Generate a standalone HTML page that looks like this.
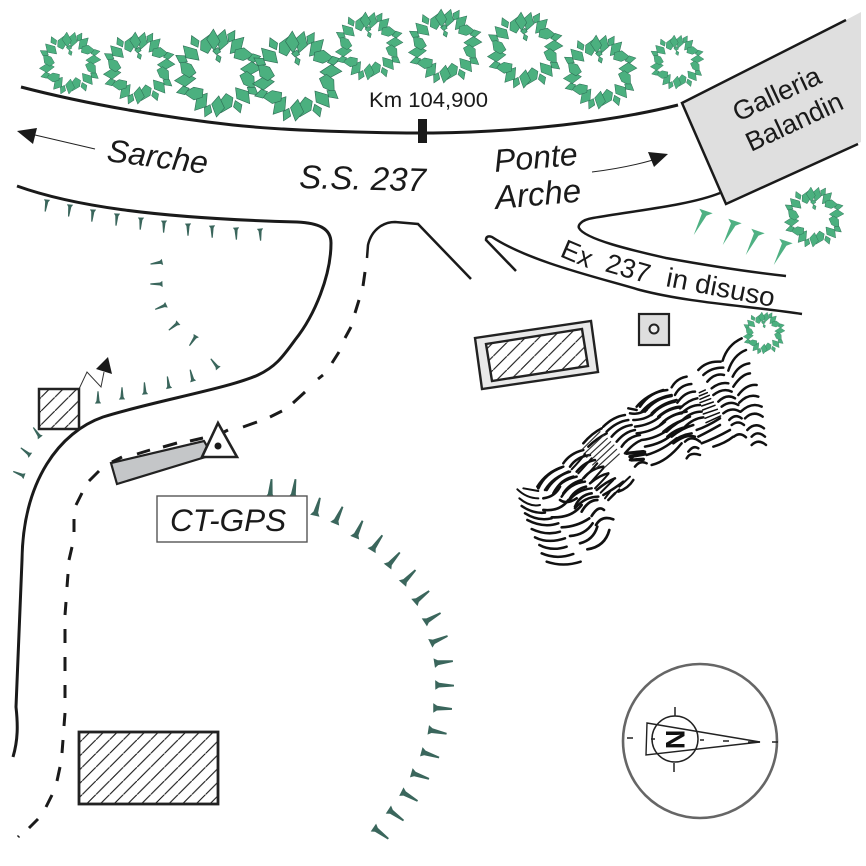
<!DOCTYPE html>
<html><head><meta charset="utf-8"><title>Diagram</title>
<style>html,body{margin:0;padding:0;background:#fff}svg{display:block}
text{font-family:"Liberation Sans",sans-serif;fill:#1a1a1a}.i{font-style:italic}</style></head>
<body>
<svg width="866" height="866" viewBox="0 0 866 866" xmlns="http://www.w3.org/2000/svg">
<defs>
<pattern id="h" width="13.7" height="13.7" patternUnits="userSpaceOnUse"><path d="M-1,14.7 L14.7,-1" stroke="#111" stroke-width="1.1" fill="none"/></pattern>
<path id="k" d="M-4.8,1 L4.8,0.5 L2.4,-3 L0.9,-18 L-0.9,-18 L-2.4,-3Z"/>
<path id="k2" d="M-7,1 L7,-1 L2.5,-4 L0,-27 L-2.5,-4Z"/>
<path id="a" d="M0,-52 L17,-70 L7,-100 L-12,-80Z"/>
<path id="b" d="M0,-74 L11,-84 L5,-104 L-8,-90Z"/>
<path id="c" d="M-3,-50 L15,-62 L22,-88 L-6,-82 L-15,-64Z"/>
<g id="tr" fill="#4bb07f" stroke="#2e6e55" stroke-width="1.4">
<use href="#a" transform="rotate(5)"/><use href="#b" transform="rotate(19)"/><use href="#a" transform="rotate(32)"/><use href="#c" transform="rotate(50)"/>
<use href="#b" transform="rotate(66)"/><use href="#a" transform="rotate(80)"/><use href="#c" transform="rotate(100)"/><use href="#b" transform="rotate(116)"/>
<use href="#a" transform="rotate(130)"/><use href="#b" transform="rotate(148)"/><use href="#c" transform="rotate(162)"/><use href="#a" transform="rotate(178)"/>
<use href="#b" transform="rotate(194)"/><use href="#a" transform="rotate(208)"/><use href="#c" transform="rotate(226)"/><use href="#b" transform="rotate(242)"/>
<use href="#a" transform="rotate(256)"/><use href="#c" transform="rotate(274)"/><use href="#b" transform="rotate(290)"/><use href="#a" transform="rotate(304)"/>
<use href="#b" transform="rotate(322)"/><use href="#c" transform="rotate(336)"/><use href="#a" transform="rotate(350)"/>
<path d="M-12,-50 L0,-58 L6,-48 L-4,-42Z"/><path d="M-2,-42 L7,-36 L4,-24 L-5,-30Z"/>
</g>
</defs>

<!-- trees -->
<use href="#tr" transform="translate(70,63) scale(.31)"/>
<use href="#tr" transform="translate(139,68) scale(.36)"/>
<use href="#tr" transform="translate(218,73) scale(.44)"/>
<use href="#tr" transform="translate(297,76) scale(.45)"/>
<use href="#tr" transform="translate(369,46) scale(.34)"/>
<use href="#tr" transform="translate(445,46) scale(.37)"/>
<use href="#tr" transform="translate(525,50) scale(.38)"/>
<use href="#tr" transform="translate(600,72) scale(.37)"/>
<use href="#tr" transform="translate(677,62) scale(.27)"/>
<use href="#tr" transform="translate(814,217) scale(.3)"/>
<use href="#tr" transform="translate(764,333) scale(.21)"/>

<!-- gallery -->
<polygon points="682,103 846,20 861,12 861,142 726,204" fill="#dfdfdf"/>
<path d="M846,20 L682,103 L726,204 L858,144" fill="none" stroke="#1a1a1a" stroke-width="2.5"/>
<text transform="translate(738,122) rotate(-25)" font-size="27" textLength="94" lengthAdjust="spacingAndGlyphs">Galleria</text>
<text transform="translate(751,152) rotate(-25)" font-size="27" textLength="104" lengthAdjust="spacingAndGlyphs">Balandin</text>

<!-- gray bar -->
<polygon points="111,463 204,441 212,455 117,484" fill="#c4c6c8" stroke="#222" stroke-width="2.2"/>

<!-- roads -->
<g fill="none" stroke="#1a1a1a" stroke-width="3">
<path d="M21,87 C90,105 170,118 233,125 C290,131 370,133 433,133 C520,132 610,122 678,105"/>
<path d="M17,186 C70,205 150,218 297,222 C318,223 331,228 331,243 C331,275 315,315 295,340 C282,358 275,367 258,375 C230,388 150,402 103,417 C60,432 23,480 22,560 L16,707 C18,725 18,740 13,757"/>
<path d="M367,258 L368,245 C372,228 385,222 395,222 L418,224 L471,279" stroke-width="2.5"/>
<path d="M720,193 C690,205 640,210 593,218 C580,220 578,226 579,228 C585,240 640,252 666,258 C710,266 750,272 786,276" stroke-width="2.5"/>
<path d="M516,271 L486,240 Q486,235 492,237 C530,262 600,278 640,290 C690,303 750,306 802,314" stroke-width="2.5"/>
<path stroke-width="3" d="M365,272L363,286M359,300L355,313M351,327L345,338M339,352L332,363M323,375L318,379M305,392L293,403M282,411L270,417M257,422L243,427M228,430L224,432M203,438L190,441M177,443L163,447M150,450L137,454M122,457L112,462M99,471L89,481M82,493L76,505M74,519L74,532M72,547L69,560M68,574L67,587M66,602L65,615M65,629L65,643M65,657L65,671M65,685L65,698M65,713L64,726M63,740L62,753M60,767L57,781M52,795L46,807M38,819L29,828M19,836L18,837"/>
</g>
<rect x="418" y="119" width="9" height="24" fill="#1a1a1a"/>

<!-- direction arrows -->
<path d="M95,149 L35,135" stroke="#222" stroke-width="1" fill="none"/>
<polygon points="17,131 37,128 33,144" fill="#1a1a1a"/>
<path d="M592,172 Q625,168 653,160" stroke="#222" stroke-width="1" fill="none"/>
<polygon points="668,154 648,152 654,167" fill="#1a1a1a"/>
<path d="M79,389 L87,372 L101,387 L104,372" stroke="#333" stroke-width="1" fill="none"/>
<polygon points="108,357 96,369 112,374" fill="#1a1a1a"/>

<!-- ticks -->
<g fill="#3a665c">
<use href="#k" transform="translate(47,200) rotate(189) scale(.65)"/>
<use href="#k" transform="translate(70,205) rotate(187) scale(.65)"/>
<use href="#k" transform="translate(93,210) rotate(186) scale(.65)"/>
<use href="#k" transform="translate(117,214) rotate(185) scale(.65)"/>
<use href="#k" transform="translate(141,218) rotate(184) scale(.65)"/>
<use href="#k" transform="translate(164,221) rotate(182) scale(.65)"/>
<use href="#k" transform="translate(188,224) rotate(180) scale(.65)"/>
<use href="#k" transform="translate(212,226) rotate(179) scale(.65)"/>
<use href="#k" transform="translate(236,228) rotate(178) scale(.65)"/>
<use href="#k" transform="translate(260,229) rotate(177) scale(.65)"/>
<use href="#k" transform="translate(162,262) rotate(-100) scale(.65)"/>
<use href="#k" transform="translate(162,284) rotate(-90) scale(.65)"/>
<use href="#k" transform="translate(166,305) rotate(-112) scale(.65)"/>
<use href="#k" transform="translate(178,323) rotate(-128) scale(.65)"/>
<use href="#k" transform="translate(196,336) rotate(-146) scale(.65)"/>
<use href="#k" transform="translate(218,368) rotate(-38) scale(.65)"/>
<use href="#k" transform="translate(193,381) rotate(-14) scale(.65)"/>
<use href="#k" transform="translate(169,388) rotate(-8) scale(.65)"/>
<use href="#k" transform="translate(145,394) rotate(-3) scale(.65)"/>
<use href="#k" transform="translate(122,399) rotate(0) scale(.65)"/>
<use href="#k" transform="translate(98,403) rotate(0) scale(.65)"/>
<use href="#k" transform="translate(40,437) rotate(-35) scale(.65)"/>
<use href="#k" transform="translate(30,455) rotate(-52) scale(.65)"/>
<use href="#k" transform="translate(24,476) rotate(-67) scale(.65)"/>

<use href="#k" transform="translate(270,497) rotate(5)"/>
<use href="#k" transform="translate(293,497) rotate(8)"/>
<use href="#k" transform="translate(315,515) rotate(16)"/>
<use href="#k" transform="translate(335,523) rotate(25)"/>
<use href="#k" transform="translate(355,537) rotate(25)"/>
<use href="#k" transform="translate(372,550) rotate(35)"/>
<use href="#k" transform="translate(388,566) rotate(41)"/>
<use href="#k" transform="translate(403,583) rotate(44)"/>
<use href="#k" transform="translate(415,602) rotate(52)"/>
<use href="#k" transform="translate(425,622) rotate(60)"/>
<use href="#k" transform="translate(431,643) rotate(67)"/>
<use href="#k" transform="translate(435,663) rotate(84)"/>
<use href="#k" transform="translate(436,685) rotate(92)"/>
<use href="#k" transform="translate(434,708) rotate(93)"/>
<use href="#k" transform="translate(429,730) rotate(102)"/>
<use href="#k" transform="translate(422,752) rotate(108)"/>
<use href="#k" transform="translate(412,773) rotate(109)"/>
<use href="#k" transform="translate(402,792) rotate(120)"/>
<use href="#k" transform="translate(389,810) rotate(126)"/>
<use href="#k" transform="translate(374,828) rotate(127)"/>
</g>
<g fill="#4fb183">
<use href="#k2" transform="translate(706,211) rotate(207)"/>
<use href="#k2" transform="translate(735,221) rotate(207)"/>
<use href="#k2" transform="translate(758,231) rotate(207)"/>
<use href="#k2" transform="translate(786,241) rotate(207)"/>
</g>

<!-- buildings -->
<rect x="79" y="732" width="139" height="72" fill="url(#h)" stroke="#222" stroke-width="2.8"/>
<rect x="39" y="389" width="40" height="40" fill="#fff" stroke="none"/>
<rect x="39" y="389" width="40" height="40" fill="url(#h)" stroke="#222" stroke-width="2.5"/>
<polygon points="475,338 591,321 598,372 482,389" fill="#e9e9e9" stroke="#222" stroke-width="2.4"/>
<polygon points="486,344 582,329 588,366 492,381" fill="#fff" stroke="none"/>
<polygon points="486,344 582,329 588,366 492,381" fill="url(#h)" stroke="#222" stroke-width="2.4"/>
<rect x="639" y="314" width="30" height="31" fill="#dedede" stroke="#222" stroke-width="2.2"/>
<circle cx="654" cy="329" r="4.5" fill="#eee" stroke="#222" stroke-width="2"/>

<!-- GPS -->
<polygon points="218,423 237,457 202,457" fill="#fff" stroke="#222" stroke-width="2.6"/>
<circle cx="218" cy="446" r="3.5" fill="#1a1a1a"/>
<rect x="157" y="496" width="150" height="46" fill="#fff" stroke="#555" stroke-width="1.4"/>
<text class="i" x="170" y="531" font-size="31.5">CT-GPS</text>

<!-- labels -->
<text x="369" y="107" font-size="21" textLength="119" lengthAdjust="spacingAndGlyphs">Km 104,900</text>
<text class="i" transform="translate(106,161) rotate(7.3)" font-size="32">Sarche</text>
<text class="i" transform="translate(299,188) rotate(1.5)" font-size="33">S.S. 237</text>
<text class="i" transform="translate(495,172) rotate(-5)" font-size="32">Ponte</text>
<text class="i" transform="translate(496,209) rotate(-5)" font-size="33">Arche</text>
<text transform="translate(559,256) rotate(23)" font-size="27">Ex</text>
<text transform="translate(604,271) rotate(16)" font-size="27">237</text>
<text transform="translate(665,286) rotate(11)" font-size="27" textLength="110" lengthAdjust="spacingAndGlyphs">in disuso</text>

<!-- north -->
<circle cx="700" cy="741" r="77" fill="none" stroke="#666" stroke-width="2.6"/>
<polygon points="647,723 646,755 760,742" fill="#fff" stroke="#222" stroke-width="1.4"/>
<circle cx="675" cy="739" r="23" fill="none" stroke="#222" stroke-width="1.5"/>
<path d="M675,707V716M674,763V772M627,738H633M772,742H778M651,739H655M700,740H704M723,741H729M748,742H760" stroke="#222" stroke-width="1.5" fill="none"/>
<text transform="translate(666,739.5) rotate(90)" font-size="27" font-weight="bold" text-anchor="middle" style="fill:#111">N</text>

<!-- hachure: middle (dense) -->
<g transform="translate(460,300) scale(.3333)" fill="none" stroke="#111" stroke-width="7.5" stroke-linecap="round">
<path d="M232,560Q260,515 310,500M255,570Q280,530 330,515M280,580Q300,540 350,530M305,590Q330,550 375,545M325,605Q350,570 395,565M345,625Q375,590 415,590M310,490Q330,460 370,450M330,500Q350,470 390,465M350,515Q375,485 405,480M370,535Q395,505 430,500M390,550Q420,525 445,520M410,570Q440,545 465,535M430,585Q465,565 490,545M445,600L465,580M475,575Q505,565 520,540M370,430Q395,400 425,385M385,440Q410,415 440,400M430,380Q460,350 495,345M440,395Q470,365 505,360M455,410Q480,380 515,375M470,425Q495,395 525,390M485,440Q505,410 540,405M495,460Q520,430 545,420M510,480Q535,450 555,455M525,500Q540,480 560,490M505,325L530,330M510,340Q535,345 560,330M520,360Q560,360 585,335M525,380Q570,375 600,350M530,400Q580,395 615,365M545,420Q590,415 630,385M555,440Q610,430 640,400M560,465Q610,450 650,415M575,495Q620,485 665,430M530,320Q560,285 610,270M545,335Q580,295 635,285M575,340Q605,310 650,300M595,350Q630,320 665,320M610,365Q640,340 680,335M620,395Q650,365 690,350M635,410Q665,385 700,375M640,430Q680,400 705,410"/>
<path stroke-width="3.5" stroke="#333" d="M365,450L420,395M372,462L432,405M380,472L442,415M390,482L452,425M398,495L462,435M408,505L470,448M420,515L478,462"/>
<path stroke-width="10" d="M500,460L550,455M510,470L555,462M515,480L550,478"/>
</g>
<!-- hachure: right part -->
<g transform="translate(620,330) scale(.3333)" fill="none" stroke="#111" stroke-width="7.5" stroke-linecap="round">
<path d="M308,92Q322,45 365,25M325,122Q340,75 378,60M235,120Q260,92 302,95M250,135Q275,112 310,113M338,140Q355,105 388,100M262,155Q285,128 312,135M275,175Q300,155 325,160M340,170Q365,132 390,130M155,172Q170,145 200,140M165,195Q180,165 214,162M355,195Q380,162 410,165M280,195Q310,172 335,185M172,218Q195,185 225,185M295,215Q320,190 345,205M358,218Q385,190 415,200M60,230Q90,185 142,180M75,245Q105,205 155,198M180,235Q205,210 232,205M305,230Q330,210 355,225M362,245Q395,215 425,230M95,255Q120,225 165,215M115,262Q145,235 180,232M185,250Q210,225 240,225M310,250Q335,230 360,245M375,265Q400,240 428,260M120,285Q150,255 185,250M190,268Q215,245 245,245M328,270Q345,250 365,265M382,300Q405,275 432,295M130,305Q160,280 190,270M195,290Q220,265 250,262M335,285Q355,270 372,285M142,320Q170,295 205,290M395,320Q412,300 435,320M342,320Q360,305 378,322M150,340Q180,315 215,310M395,345Q415,325 438,345M195,335Q215,315 240,335M200,385Q210,365 240,375M205,365Q220,345 235,355M280,350Q315,340 340,320M245,340Q285,325 330,300M235,320Q265,305 300,285M230,300Q260,290 300,265"/>
<path stroke-width="4.5" d="M238,188L256,180M238,198L262,188M240,208L268,196M240,218L272,206M245,228L280,216M248,240L285,226M250,252L292,238M255,265L298,248M258,278L302,258"/>
</g>
<!-- hachure: lower-left part -->
<g transform="translate(510,430) scale(.3333)" fill="none" stroke="#111" stroke-width="8" stroke-linecap="round">
<path d="M110,395Q160,412 212,395M95,370Q140,390 190,372M88,345Q125,365 170,350M75,322Q115,342 165,325M65,297Q110,318 150,305M52,270Q100,295 145,280M45,250Q85,275 125,265M35,228Q70,252 105,248" stroke-width="7.5"/>
<path stroke-width="6" d="M28,205Q60,232 90,225M22,178Q50,205 85,205M40,175L85,183"/>
<path d="M232,358Q285,350 298,300M210,340Q250,330 262,290M180,318Q225,315 248,280M155,292Q200,290 238,265M100,240Q150,245 175,210M125,262Q185,265 215,225"/>
<path d="M85,175Q105,130 155,112M110,180Q130,145 175,125M135,185Q150,150 190,140M160,190Q180,160 215,150M100,205Q135,200 150,170M175,215Q190,180 228,170M195,230Q210,195 245,190M215,245Q235,210 262,210M245,258Q265,225 282,240M258,285Q275,255 310,268M150,210Q170,225 200,205"/>
<path stroke-width="6" d="M185,118Q210,92 225,72M205,130Q228,105 245,85M222,145Q245,120 262,100M240,160Q262,135 280,115M255,175Q280,150 295,132M272,188Q295,165 310,150M285,205L300,185M310,195L328,178M328,170L360,140"/>
</g>
</svg>
</body></html>
